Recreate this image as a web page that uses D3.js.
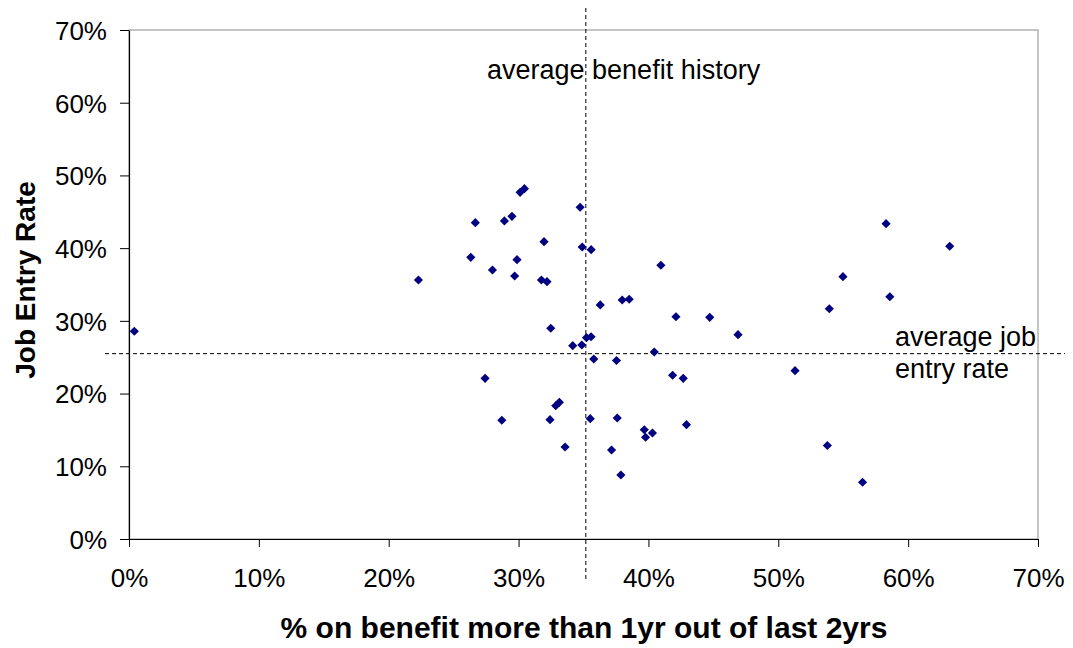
<!DOCTYPE html>
<html>
<head>
<meta charset="utf-8">
<script src="https://cdn.jsdelivr.net/npm/d3@7"></script>
<style>
  html, body { margin: 0; padding: 0; background: #fff; }
  svg { display: block; font-family: Arial, "Liberation Sans", sans-serif; }
</style>
</head>
<body>
<svg id="chart" width="1073" height="648"></svg>
<script>
// ---- data ----
const benefitShare = [
  0.0041, 0.2229, 0.2632, 0.2667, 0.2742, 0.2799, 0.2871, 0.2891, 0.2949, 0.2970,
  0.2988, 0.3012, 0.3045, 0.3196, 0.3176, 0.3219, 0.3248, 0.3242, 0.3286, 0.3314,
  0.3358, 0.3417, 0.3474, 0.3487, 0.3490, 0.3523, 0.3558, 0.3552, 0.3559, 0.3579,
  0.3629, 0.3716, 0.3754, 0.3760, 0.3788, 0.3798, 0.3852, 0.3968, 0.3978, 0.4031,
  0.4045, 0.4096, 0.4186, 0.4212, 0.4268, 0.4293, 0.4472, 0.4690, 0.5129, 0.5378,
  0.5393, 0.5498, 0.5649, 0.5830, 0.5859, 0.6320
];
const jobEntryRate = [
  0.2857, 0.3562, 0.3874, 0.4350, 0.2210, 0.3700, 0.1633, 0.4374, 0.4438, 0.3617,
  0.3841, 0.4768, 0.4818, 0.4089, 0.3562, 0.3539, 0.2898, 0.1641, 0.1833, 0.1880,
  0.1265, 0.2659, 0.4562, 0.2668, 0.4016, 0.2769, 0.2781, 0.1655, 0.3979, 0.2476,
  0.3219, 0.1224, 0.2455, 0.1664, 0.0880, 0.3287, 0.3297, 0.1503, 0.1399, 0.1458,
  0.2572, 0.3765, 0.2252, 0.3056, 0.2210, 0.1572, 0.3049, 0.2810, 0.2315, 0.1286,
  0.3166, 0.3608, 0.0781, 0.4337, 0.3331, 0.4026
];
const averageBenefit = 0.3518;
const averageJobEntry = 0.2549;
const xTicks = [0, 0.1, 0.2, 0.3, 0.4, 0.5, 0.6, 0.7];
const yTicks = [0, 0.1, 0.2, 0.3, 0.4, 0.5, 0.6, 0.7];
const xTitle = "% on benefit more than 1yr out of last 2yrs";
const yTitle = "Job Entry Rate";
const vLabel = "average benefit history";
const hLabel = ["average job", "entry rate"];

(function () {
  // ---- layout ----
  const svg = d3.select("#chart");
  const pLeft = 129, pRight = 1038, pTop = 30, pBottom = 539;

  const x = d3.scaleLinear().domain([0, 0.7]).range([pLeft, pRight]);
  const y = d3.scaleLinear().domain([0, 0.7]).range([pBottom, pTop]);
  const pct = d3.format(".0%");

  // plot border (top/right gray)
  svg.append("rect")
    .attr("x", pLeft).attr("y", pTop)
    .attr("width", pRight - pLeft).attr("height", pBottom - pTop)
    .attr("fill", "none").attr("stroke", "#8c8c8c").attr("stroke-width", 1);

  // axes
  const xAxis = d3.axisBottom(x).tickValues(xTicks).tickFormat(pct).tickSizeInner(8).tickSizeOuter(0).tickPadding(22);
  const yAxis = d3.axisLeft(y).tickValues(yTicks).tickFormat(pct).tickSizeInner(9).tickSizeOuter(0).tickPadding(13);

  const gx = svg.append("g").attr("transform", `translate(0,${pBottom})`).call(xAxis);
  const gy = svg.append("g").attr("transform", `translate(${pLeft},0)`).call(yAxis);

  [gx, gy].forEach(g => {
    g.select(".domain").attr("stroke", "#000").attr("stroke-width", 1.2);
    g.selectAll(".tick line").attr("stroke", "#000").attr("stroke-width", 1);
    g.selectAll(".tick text")
      .attr("fill", "#000")
      .style("font-size", "26px")
      .style("font-family", "Arial, 'Liberation Sans', sans-serif");
  });
  gx.selectAll(".tick text").attr("dy", "0.71em");
  gy.selectAll(".tick text").attr("dy", "0.36em");

  // average reference lines
  svg.append("line")
    .attr("x1", x(averageBenefit)).attr("x2", x(averageBenefit))
    .attr("y1", 8).attr("y2", 580)
    .attr("stroke", "#000").attr("stroke-width", 1)
    .attr("stroke-dasharray", "4,3");

  svg.append("line")
    .attr("x1", 105).attr("x2", 1065)
    .attr("y1", y(averageJobEntry)).attr("y2", y(averageJobEntry))
    .attr("stroke", "#000").attr("stroke-width", 1)
    .attr("stroke-dasharray", "4,3");

  // points
  const data = benefitShare.map((b, i) => ({ b, j: jobEntryRate[i] }));
  const diamond = d3.symbol().type(d3.symbolSquare).size(42);
  svg.append("g").selectAll("path")
    .data(data)
    .join("path")
    .attr("d", diamond)
    .attr("transform", d => `translate(${x(d.b)},${y(d.j)}) rotate(45)`)
    .attr("fill", "#000080");

  // annotations
  svg.append("text")
    .attr("x", 487).attr("y", 79)
    .style("font-size", "27px")
    .attr("fill", "#000")
    .text(vLabel);

  svg.append("text")
    .attr("x", 895).attr("y", 346)
    .style("font-size", "27px")
    .attr("fill", "#000")
    .text(hLabel[0]);
  svg.append("text")
    .attr("x", 895).attr("y", 378)
    .style("font-size", "27px")
    .attr("fill", "#000")
    .text(hLabel[1]);

  // axis titles
  svg.append("text")
    .attr("x", 584).attr("y", 638)
    .attr("text-anchor", "middle")
    .style("font-size", "30px").style("font-weight", "bold")
    .attr("fill", "#000")
    .text(xTitle);

  svg.append("text")
    .attr("transform", "translate(35,280) rotate(-90)")
    .attr("text-anchor", "middle")
    .style("font-size", "28px").style("font-weight", "bold")
    .attr("fill", "#000")
    .text(yTitle);
})();
</script>
</body>
</html>
